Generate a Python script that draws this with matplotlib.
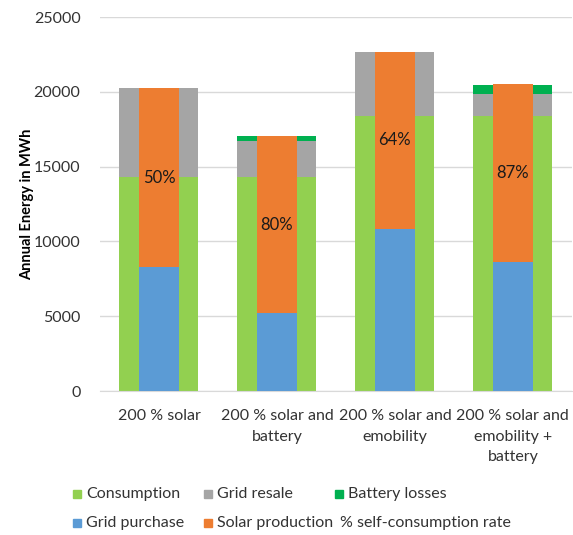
import matplotlib.pyplot as plt
import numpy as np
from matplotlib.patches import Rectangle

plt.rcParams["font.family"] = ["Lato", "DejaVu Sans"]

# data (MWh)
scenarios = ["200 % solar", "200 % solar and\nbattery", "200 % solar and\nemobility",
             "200 % solar and\nemobility +\nbattery"]
consumption = [14300, 14300, 18400, 18400]
grid_resale = [5950, 2400, 4250, 1480]
battery_losses = [0, 360, 0, 580]
grid_purchase = [8300, 5200, 10830, 8650]
solar_production = [11950, 11870, 11870, 11860]
self_consumption = ["50%", "80%", "64%", "87%"]

c_cons = "#92d050"
c_purch = "#5b9bd5"
c_resale = "#a5a5a5"
c_solar = "#ed7d31"
c_batt = "#00b050"

W, H = 573, 535
fig = plt.figure(figsize=(W / 100, H / 100), dpi=100)
ax = fig.add_axes([0.1745, 0.269, 0.8235, 0.699])

x = np.arange(len(scenarios))
wide = 0.67
narrow = 0.34

cons = np.array(consumption)
resale = np.array(grid_resale)
# wide bars: consumption + resale + battery losses
ax.bar(x, cons, wide, color=c_cons, zorder=2)
ax.bar(x, resale, wide, bottom=cons, color=c_resale, zorder=2)
ax.bar(x, battery_losses, wide, bottom=cons + resale, color=c_batt, zorder=2)
# narrow bars: grid purchase + solar production
purch = np.array(grid_purchase)
solar = np.array(solar_production)
ax.bar(x, purch, narrow, color=c_purch, zorder=3)
ax.bar(x, solar, narrow, bottom=purch, color=c_solar, zorder=3)

# self-consumption rate labels in the middle of the solar segment
for i in range(len(x)):
    ax.text(x[i], purch[i] + solar[i] / 2, self_consumption[i], ha="center", va="center",
            fontsize=12, color="#1a1a1a", zorder=4)

ax.set_xlim(-0.5, len(x) - 0.5)
ax.set_ylim(0, 25000)
ax.set_yticks(range(0, 25001, 5000))
ax.set_xticks(x)
ax.set_xticklabels(scenarios, fontsize=11.5, color="#333333", linespacing=1.6)
ax.tick_params(axis="y", labelsize=11.5, labelcolor="#333333", length=0, pad=14)
ax.tick_params(axis="x", length=0, pad=13)
ax.grid(axis="y", color="#d9d9d9", linewidth=1, zorder=0)
for s in ["top", "right", "left"]:
    ax.spines[s].set_visible(False)
ax.spines["bottom"].set_color("#d9d9d9")
ax.set_ylabel("Annual Energy in MWh", fontsize=10.5, fontweight="bold", labelpad=0)

# legend laid out like the original (fixed column positions)
legend_items = [("Consumption", c_cons, 73, 494), ("Grid resale", c_resale, 204, 494),
                ("Battery losses", c_batt, 335, 494), ("Grid purchase", c_purch, 73, 523),
                ("Solar production", c_solar, 204, 523)]
for name, col, px, py in legend_items:
    fig.patches.append(Rectangle((px / W, (H - py - 4) / H), 8 / W, 8 / H, color=col,
                                 transform=fig.transFigure, figure=fig))
    fig.text((px + 13) / W, (H - py) / H, name, fontsize=11.5, color="#333333", va="center")
fig.text(340 / W, (H - 523) / H, "% self-consumption rate", fontsize=11.5, color="#333333",
         va="center")

fig.savefig("out.png", dpi=100)
